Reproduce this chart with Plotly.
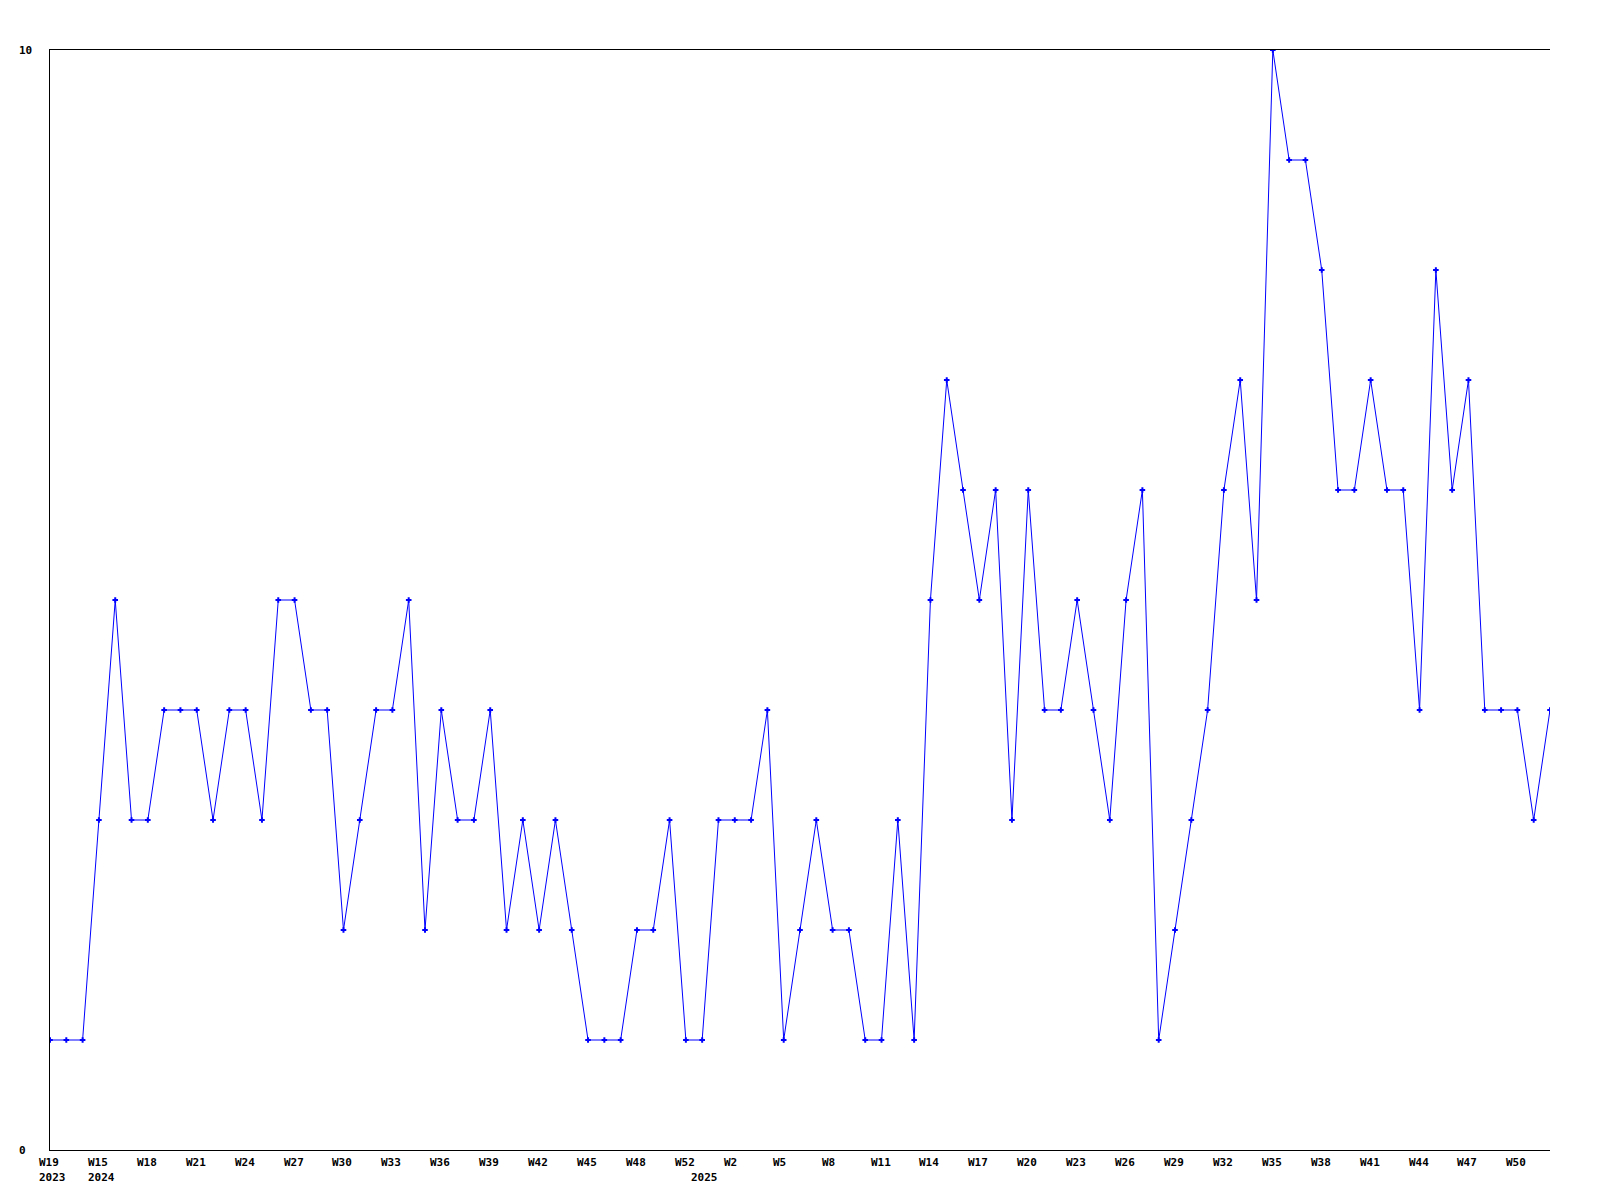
import plotly.graph_objects as go

# Week labels (one per point)
weeks_2023 = ["2023-W19", "2023-W20", "2023-W21"]
weeks_2024 = ["2024-W%d" % w for w in range(15, 51)] + ["2024-W52"]
weeks_2025 = ["2025-W0", "2025-W1"] + ["2025-W%d" % w for w in range(2, 53)]
categories = weeks_2023 + weeks_2024 + weeks_2025

values = [1, 1, 1, 3, 5, 3, 3, 4, 4, 4,
          3, 4, 4, 3, 5, 5, 4, 4, 2, 3,
          4, 4, 5, 2, 4, 3, 3, 4, 2, 3,
          2, 3, 2, 1, 1, 1, 2, 2, 3, 1,
          1, 3, 3, 3, 4, 1, 2, 3, 2, 2,
          1, 1, 3, 1, 5, 7, 6, 5, 6, 3,
          6, 4, 4, 5, 4, 3, 5, 6, 1, 2,
          3, 4, 6, 7, 5, 10, 9, 9, 8, 6,
          6, 7, 6, 6, 4, 8, 6, 7, 4, 4,
          4, 3, 4]

tick_every = 3
year_labels = {"2023-W19": "2023", "2024-W15": "2024", "2025-W0": "2025"}
y_ticks = [0, 10]

fig = go.Figure()
fig.add_trace(go.Scatter(
    x=categories, y=values, mode="lines+markers",
    line=dict(color="#0000ff", width=1),
    marker=dict(symbol="cross-thin", size=4, color="#0000ff",
                line=dict(color="#0000ff", width=2)),
    hoverinfo="x+y", showlegend=False,
))

font = dict(family="DejaVu Sans Mono", size=11, color="#000000")
ann = []
for i in range(0, len(categories), tick_every):
    c = categories[i]
    ann.append(dict(x=c, y=0, xref="x", yref="paper", yanchor="middle",
                    xanchor="left", xshift=-13, yshift=-12,
                    text="<b>%s</b>" % c.split("-")[1], showarrow=False, font=font))
for c, yr in year_labels.items():
    ann.append(dict(x=c, y=0, xref="x", yref="paper", yanchor="middle",
                    xanchor="left", xshift=-13, yshift=-27,
                    text="<b>%s</b>" % yr, showarrow=False, font=font))
for v in y_ticks:
    ann.append(dict(x=0, y=v, xref="paper", yref="y", xanchor="left",
                    yanchor="middle", xshift=-33, text="<b>%d</b>" % v,
                    showarrow=False, font=font))

fig.update_layout(
    width=1600, height=1200,
    margin=dict(l=42, r=58, t=42, b=58),
    paper_bgcolor="white", plot_bgcolor="white",
    annotations=ann,
    xaxis=dict(type="category", categoryorder="array", categoryarray=categories,
               range=[0, len(categories) - 1], showgrid=False, zeroline=False,
               showticklabels=False, ticks="", showline=True, linecolor="black",
               linewidth=1, mirror=True),
    yaxis=dict(range=[0, 10], showgrid=False, zeroline=False, showticklabels=False,
               ticks="", showline=True, linecolor="black", linewidth=1),
)

fig.write_html("out.html")
